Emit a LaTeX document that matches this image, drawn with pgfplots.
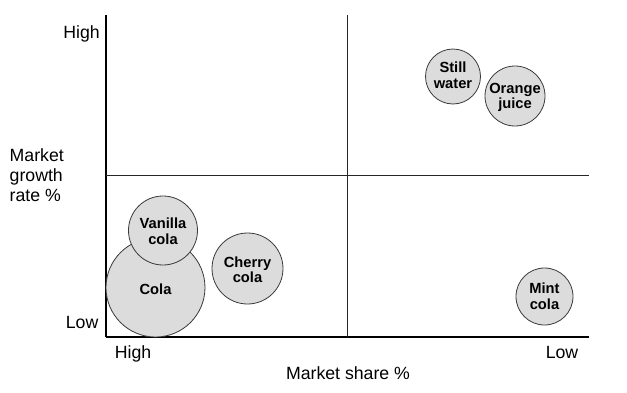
\documentclass[border=0pt]{standalone}
\usepackage{pgfplots}
\pgfplotsset{compat=1.18}
\usepackage{fontspec}
\setmainfont{Liberation Sans}
\definecolor{bubblefill}{HTML}{DCDCDC}
\definecolor{bubbleedge}{HTML}{3A3A3A}
\begin{document}
\begin{tikzpicture}
\begin{axis}[
  scale only axis, width=483pt, height=322pt,
  xmin=106, xmax=589, ymin=55, ymax=377,
  axis lines*=left, axis line style={line width=1.8pt, black},
  ticks=none, clip=false,
]
% quadrant dividers
\draw[line width=0.8pt, black!85] (axis cs:347,55) -- (axis cs:347,377);
\draw[line width=0.8pt, black!85] (axis cs:106,217) -- (axis cs:589,217);
% bubbles: x, y (pixels from bottom), radius
\addplot[
  scatter, only marks, mark=*,
  scatter/use mapped color={draw=bubbleedge, fill=bubblefill},
  visualization depends on={\thisrow{r} \as \rad},
  scatter/@pre marker code/.append style={/tikz/mark size=\rad},
  mark options={line width=0.8pt},
] table {
x y r
155.5 104.5 49.5
163 161.5 34.5
247.5 123.5 35.5
453 315.5 27.5
515 296 30
544.5 95.5 28.5
};
\coordinate (lCola) at (axis cs:155.5,103);
\coordinate (lVan) at (axis cs:163,161);
\coordinate (lChe) at (axis cs:247.5,122.5);
\coordinate (lSti) at (axis cs:453,317);
\coordinate (lOra) at (axis cs:515,294.5);
\coordinate (lMin) at (axis cs:544.5,96);
% axis texts
\begin{scope}[every node/.style={font=\fontsize{17.7}{20}\selectfont, inner sep=0pt}]
\node[anchor=base east] at (axis cs:100,353.5) {High};
\node[anchor=base east] at (axis cs:98.5,63.7) {Low};
\node[anchor=base] at (axis cs:133,33.7) {High};
\node[anchor=base] at (axis cs:562,33.5) {Low};
\node[anchor=base] at (axis cs:348,13) {Market share \%};
\node[anchor=north west, align=left] at (axis cs:9.5,244) {Market\\growth\\rate \%};
\end{scope}
\coordinate (bbl) at (axis cs:0,0);
\coordinate (btr) at (axis cs:627,392);
\end{axis}
% bubble labels
\begin{scope}[every node/.style={font=\fontsize{14.7}{15.5}\selectfont\bfseries, align=center, inner sep=0pt}]
\node at (lCola) {Cola};
\node at (lVan) {Vanilla\\cola};
\node at (lChe) {Cherry\\cola};
\node at (lSti) {Still\\water};
\node at (lOra) {Orange\\juice};
\node at (lMin) {Mint\\cola};
\end{scope}
\path (bbl) rectangle (btr);
\end{tikzpicture}
\end{document}
